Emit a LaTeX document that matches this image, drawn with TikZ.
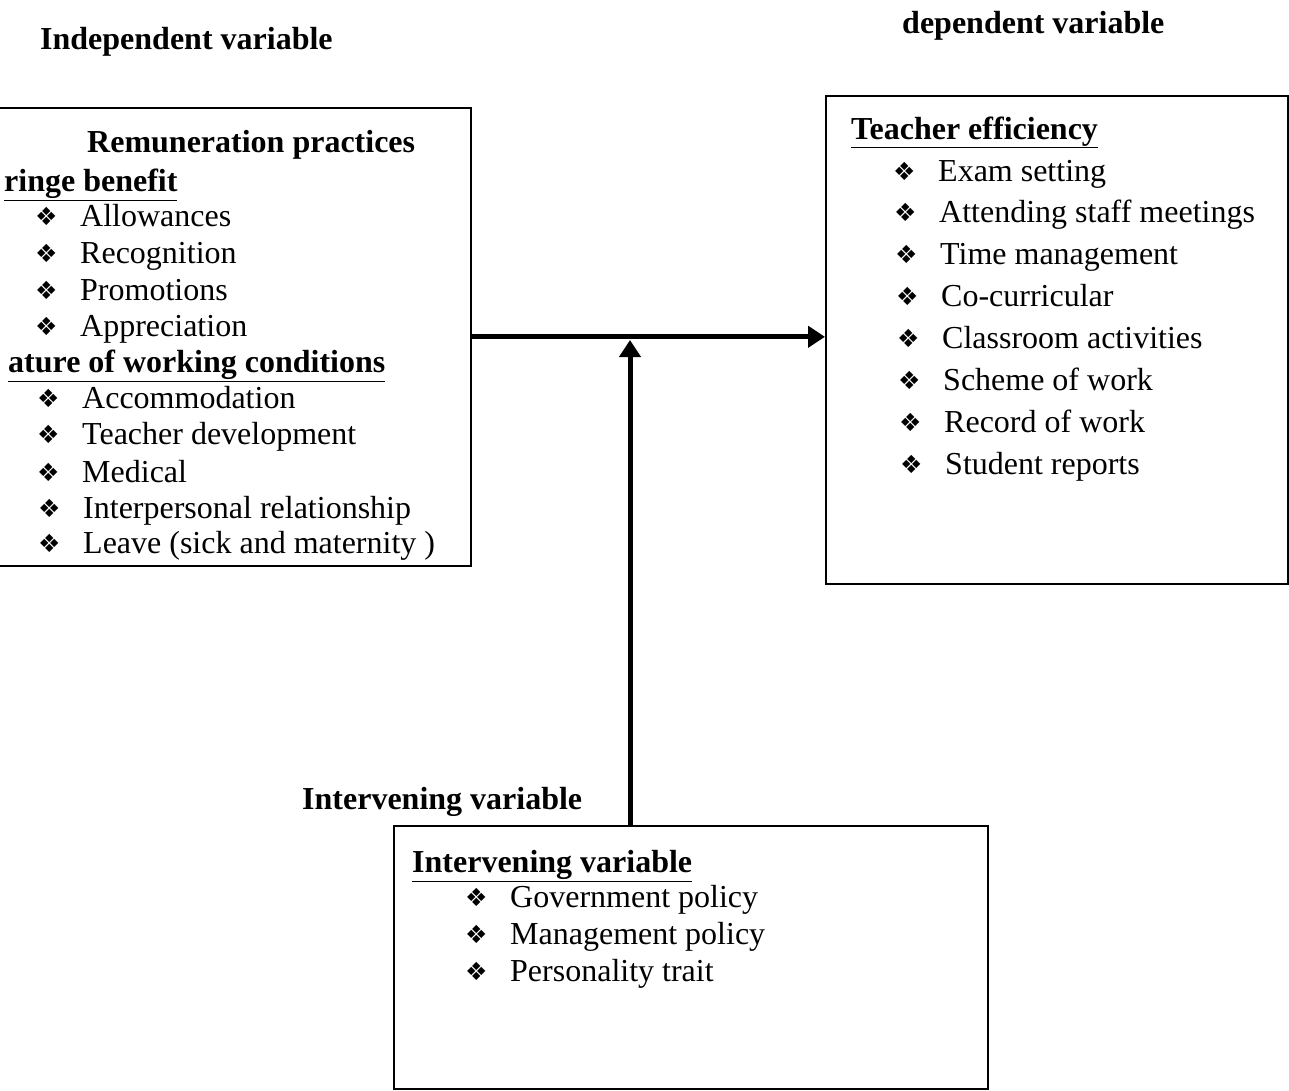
\documentclass[tikz,border=0pt]{standalone}
\usepackage{fontspec}
\setmainfont{Liberation Serif}
\newfontfamily\djv{DejaVu Sans}
\usetikzlibrary{arrows.meta}
\newcommand{\bul}{\makebox[45pt][l]{\raisebox{1pt}{\djv\fontsize{25}{25}\selectfont ❖}}}
\newcommand{\uline}[1]{\underline{#1}}
\begin{document}
\begin{tikzpicture}[x=1pt,y=-1pt,
  box/.style={draw, line width=1.6pt, inner sep=0pt, anchor=north west},
  txt/.style={anchor=west, inner sep=0pt, text height=0.66em, text depth=0pt, font=\fontsize{32}{34}\selectfont},
  head/.style={txt, font=\fontsize{32}{34}\selectfont\bfseries},
  arr/.style={line width=5pt, -{Triangle[length=17pt,width=21pt]}}]
\useasboundingbox (0,0) rectangle (1289,1090);
\fill[white] (0,0) rectangle (1289,1090);
% titles
\node[head] (t1) at (40,46) {Independent variable};
\node[head] (t2) at (902,30) {dependent variable};
\node[head] (t3) at (302,806) {Intervening variable};
% boxes
\node[box, minimum width=475pt, minimum height=458pt] (L) at (-5,107) {};
\node[box, minimum width=462pt, minimum height=488pt] (R) at (825,95) {};
\node[box, minimum width=594pt, minimum height=263pt] (B) at (393,825) {};
% left box text
\node[head] (l0) at (87,149) {Remuneration practices};
\node[head] (l1) at (4,188) {\uline{ringe benefit}};
\node[txt] (l2) at (35,223) {\bul Allowances};
\node[txt] (l3) at (35,260) {\bul Recognition};
\node[txt] (l4) at (35,297) {\bul Promotions};
\node[txt] (l5) at (35,333) {\bul Appreciation};
\node[head] (l6) at (8,369) {\uline{ature of working conditions}};
\node[txt] (l7) at (37,405) {\bul Accommodation};
\node[txt] (l8) at (37,441) {\bul Teacher development};
\node[txt] (l9) at (37,479) {\bul Medical};
\node[txt] (l10) at (38,515) {\bul Interpersonal relationship};
\node[txt] (l11) at (38,550) {\bul Leave (sick and maternity )};
% right box text
\node[head] (r0) at (851,136) {\uline{Teacher efficiency}};
\node[txt] (r1) at (893,178) {\bul Exam setting};
\node[txt] (r2) at (894,219) {\bul Attending staff meetings};
\node[txt] (r3) at (895,261) {\bul Time management};
\node[txt] (r4) at (896,303) {\bul Co-curricular};
\node[txt] (r5) at (897,345) {\bul Classroom activities};
\node[txt] (r6) at (898,387) {\bul Scheme of work};
\node[txt] (r7) at (899,429) {\bul Record of work};
\node[txt] (r8) at (900,471) {\bul Student reports};
% bottom box text
\node[head] (b0) at (412,869) {\uline{Intervening variable}};
\node[txt] (b1) at (465,904) {\bul Government policy};
\node[txt] (b2) at (465,941) {\bul Management policy};
\node[txt] (b3) at (465,978) {\bul Personality trait};
% connectors
\coordinate (vj) at (630,340);
\draw[arr] (L.east) -- (R.west |- L.east);
\draw[arr] (B.north -| vj) -- (vj);
\end{tikzpicture}
\end{document}
